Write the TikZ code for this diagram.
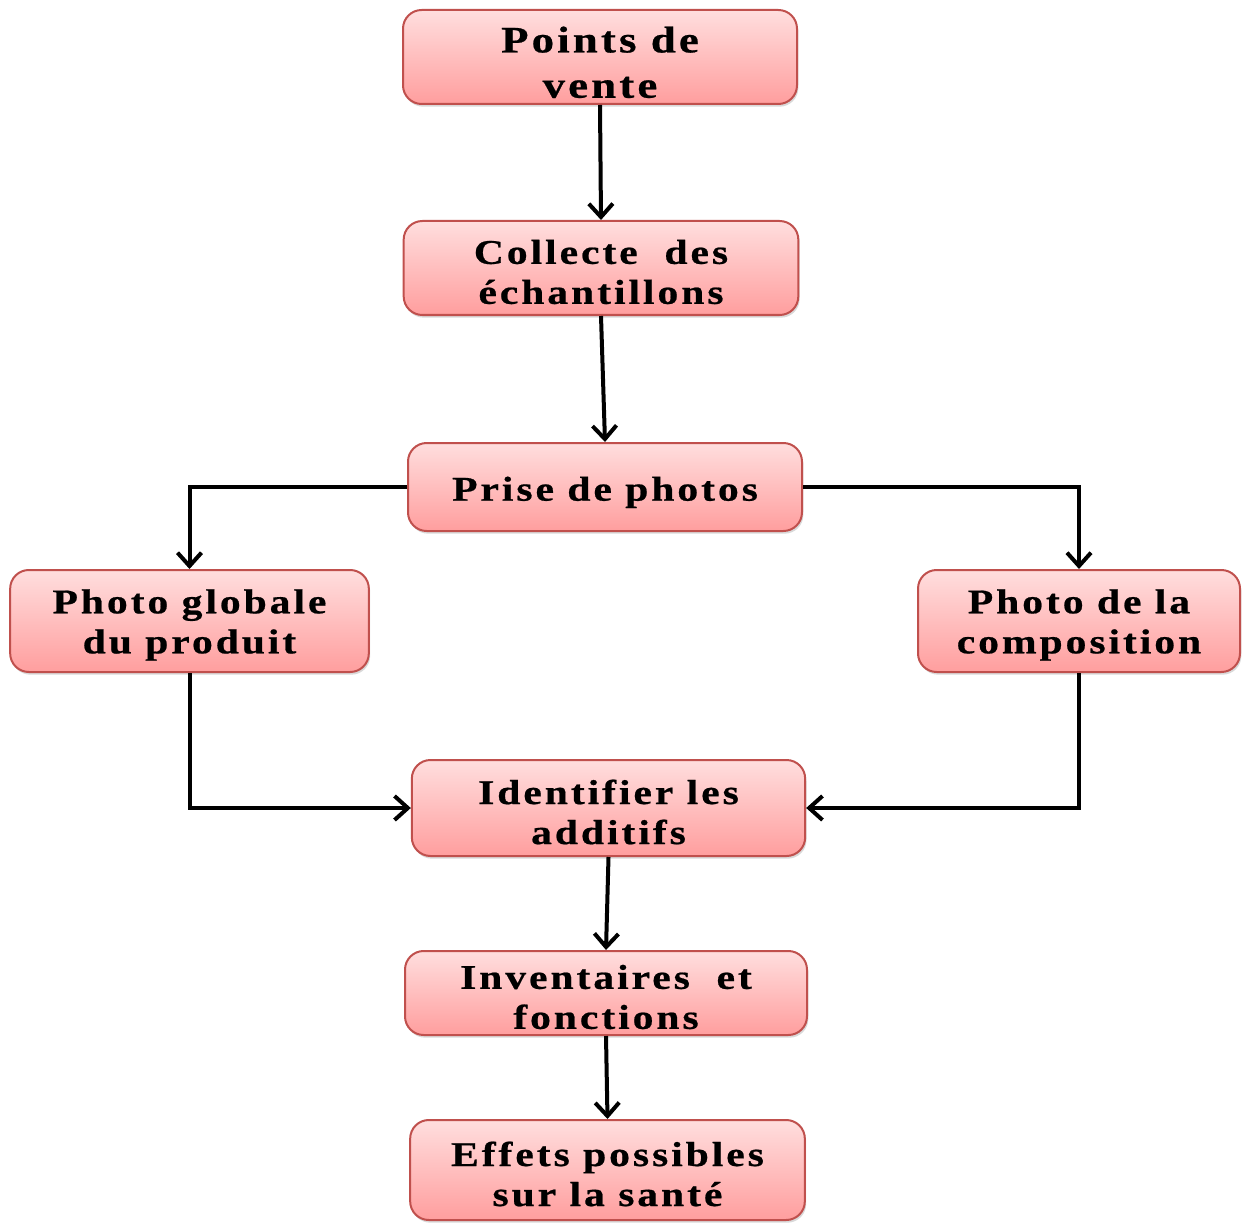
\documentclass[tikz,border=0pt]{standalone}
\usepackage{fontspec}
\setmainfont{Liberation Serif}[FakeStretch=1.2,LetterSpace=8.5,FakeBold=0.6]
\usetikzlibrary{arrows.meta,shadows}
\definecolor{boxborder}{RGB}{192,80,77}
\definecolor{boxtop}{RGB}{255,222,222}
\definecolor{boxbot}{RGB}{255,158,158}
\tikzset{
  box/.style={draw=boxborder, line width=1.5pt, rounded corners=14pt,
    top color=boxtop, bottom color=boxbot, inner sep=0pt,
    drop shadow={shadow xshift=1pt, shadow yshift=-2pt, opacity=0.25, fill=black!60}},
  txt/.style={align=center, inner sep=0pt, yshift=-3pt,
    font=\fontsize{26}{30}\selectfont\bfseries},
  arr/.style={draw=black, line width=3pt, -{Straight Barb[length=10pt,width=18pt,line width=3pt]}}
}
\begin{document}
\begin{tikzpicture}[x=0.75pt,y=-0.75pt]
\useasboundingbox (0,0) rectangle (1242,1223);
\node[box, minimum width=295.5pt, minimum height=70.5pt] (pv) at (600,57) {};
\node[txt, font=\fontsize{28}{34}\selectfont\bfseries, yshift=-1pt] (pv-t) at (pv) {Points de\\vente};
\node[box, minimum width=296pt, minimum height=70.5pt] (col) at (601,268) {};
\node[txt] (col-t) at (col) {Collecte\ \ des\\échantillons};
\node[box, minimum width=295.5pt, minimum height=66pt] (pri) at (605,487) {};
\node[txt, yshift=-1pt] (pri-t) at (pri) {Prise de photos};
\node[box, minimum width=269pt, minimum height=76.5pt] (glo) at (189.5,621) {};
\node[txt] (glo-t) at (glo) {Photo globale\\du produit};
\node[box, minimum width=241.5pt, minimum height=76.5pt] (comp) at (1079,621) {};
\node[txt] (comp-t) at (comp) {Photo de la\\composition};
\node[box, minimum width=295pt, minimum height=72pt] (idt) at (608.5,808) {};
\node[txt] (idt-t) at (idt) {Identifier les\\additifs};
\node[box, minimum width=301.5pt, minimum height=63pt] (inv) at (606,993) {};
\node[txt] (inv-t) at (inv) {Inventaires\ \ et\\fonctions};
\node[box, minimum width=296pt, minimum height=75pt] (eff) at (607.5,1170) {};
\node[txt] (eff-t) at (eff) {Effets possibles\\sur la santé};
\draw[arr] (pv.south) -- (col.north);
\draw[arr] (col.south) -- (pri.north);
\draw[arr] (pri.west) -| (glo.north);
\draw[arr] (pri.east) -| (comp.north);
\draw[arr] (glo.south) |- (idt.west);
\draw[arr] (comp.south) |- (idt.east);
\draw[arr] (idt.south) -- (inv.north);
\draw[arr] (inv.south) -- (eff.north);
\end{tikzpicture}
\end{document}
